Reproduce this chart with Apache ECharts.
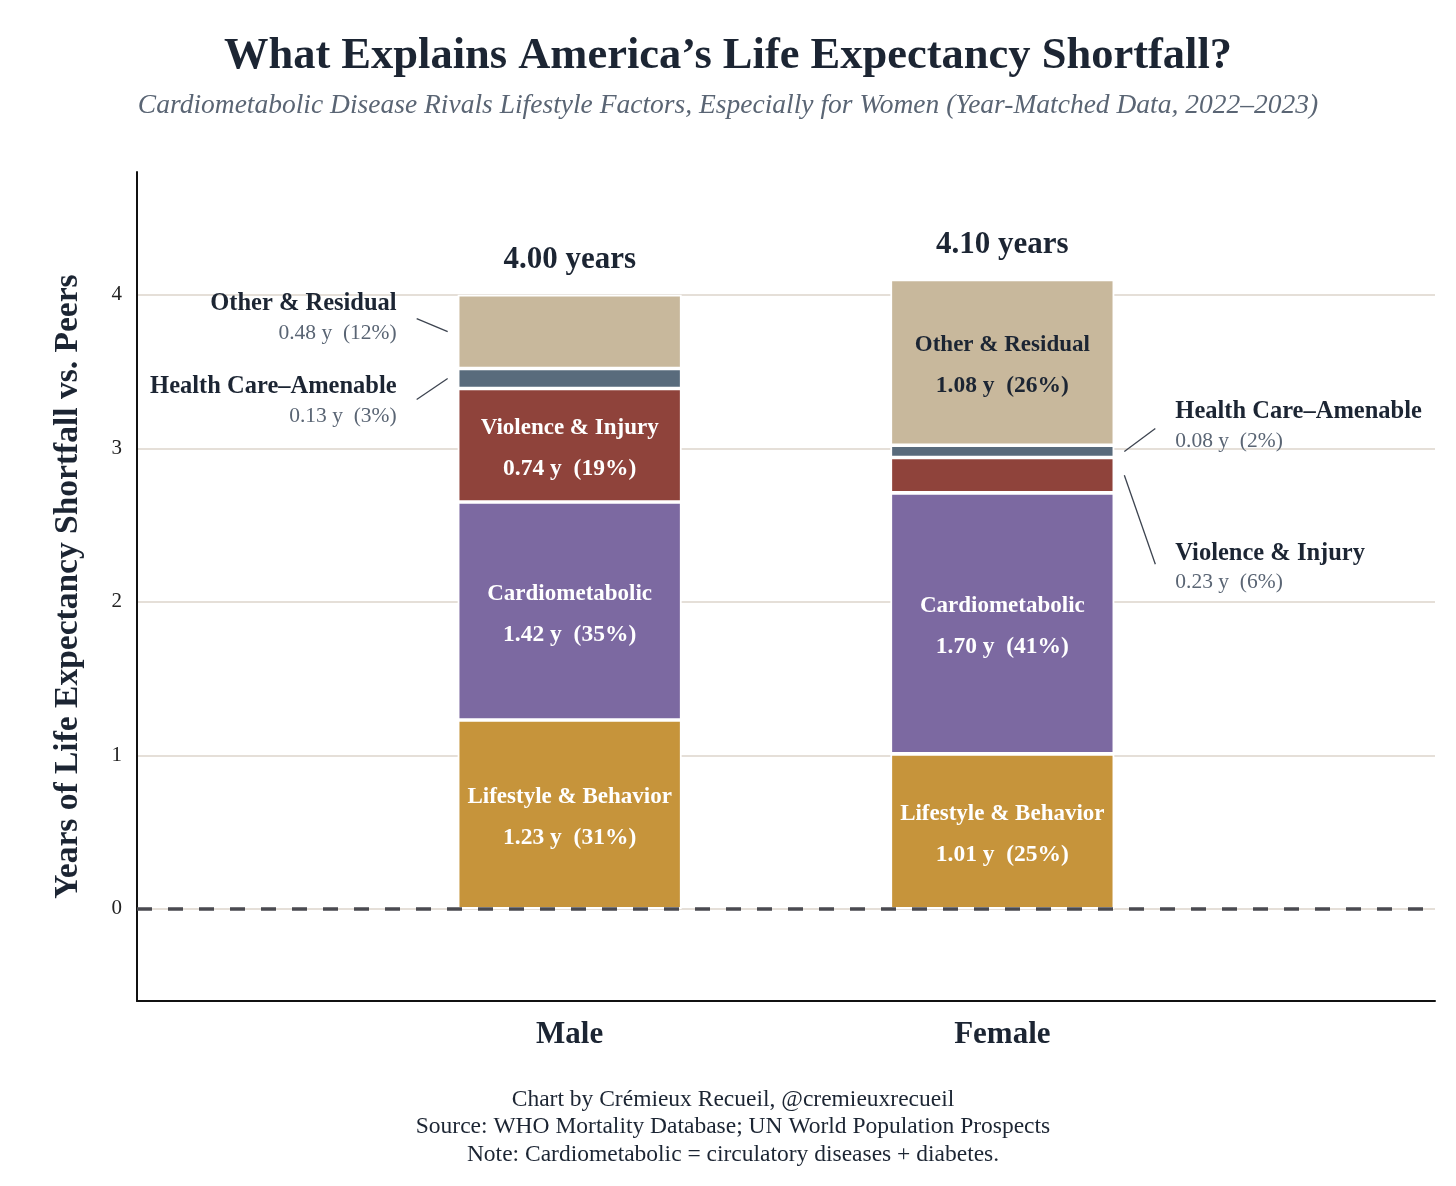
<!DOCTYPE html>
<html>
<head>
<meta charset="utf-8">
<script src="https://cdn.jsdelivr.net/npm/echarts@6/dist/echarts.min.js"></script>
<style>
html, body { margin: 0; padding: 0; background: #fff; }
#chart { width: 1456px; height: 1186px; }
</style>
</head>
<body>
<div id="chart"></div>
<script>
// data
var groups = ['Male', 'Female'];
var causes = ['Lifestyle & Behavior', 'Cardiometabolic', 'Violence & Injury', 'Health Care–Amenable', 'Other & Residual'];
var maleYears = [1.23, 1.42, 0.74, 0.13, 0.48];
var malePct = [31, 35, 19, 3, 12];
var femaleYears = [1.01, 1.70, 0.23, 0.08, 1.08];
var femalePct = [25, 41, 6, 2, 26];
var yTicks = [0, 1, 2, 3, 4];

var colors = ['#c6943b', '#7c69a1', '#8f433b', '#596b7c', '#c8b89c'];
var insideText = ['#ffffff', '#ffffff', '#ffffff', '#ffffff', '#1c2533'];
var FONT = '"Liberation Serif", "DejaVu Serif", serif';
var DARK = '#1c2533';
var GREY = '#5a6574';
var BAR_W = 224;

var years = [maleYears, femaleYears];
var pcts = [malePct, femalePct];
// x slots: empty padding slot on each side of the two bars
var slots = [''].concat(groups, ['']);

// callouts for the thin segments: side, shift of the leader line end, shift of the text (px)
var callouts = [
    { g: 0, c: 4, side: -1, dy: -13, ty: 0 },
    { g: 0, c: 3, side: -1, dy: 21, ty: 2 },
    { g: 1, c: 3, side: 1, dy: -23, ty: -2 },
    { g: 1, c: 2, side: 1, dy: 89, ty: 4 }
];

function isCallout(g, c) {
    return callouts.some(function (o) { return o.g === g && o.c === c; });
}
function valueText(g, c) {
    return years[g][c].toFixed(2) + ' y  (' + pcts[g][c] + '%)';
}

var totals = years.map(function (arr) {
    return Math.round(arr.reduce(function (a, b) { return a + b; }, 0) * 100) / 100;
});

var series = causes.map(function (name, c) {
    var data = ['-'];
    groups.forEach(function (gName, g) {
        data.push({ value: years[g][c], label: { show: !isCallout(g, c) } });
    });
    data.push('-');
    return {
        name: name,
        type: 'bar',
        stack: 'total',
        barWidth: BAR_W,
        itemStyle: { color: colors[c], borderColor: '#ffffff', borderWidth: 1.8 },
        data: data,
        label: {
            show: true,
            position: 'inside',
            offset: [0, 3],
            formatter: function (p) {
                var g = p.dataIndex - 1;
                return '{n|' + name + '}\n{v|' + valueText(g, c) + '}';
            },
            rich: {
                n: { fontFamily: FONT, fontSize: 23, fontWeight: 'bold', color: insideText[c], lineHeight: 41 },
                v: { fontFamily: FONT, fontSize: 23.5, fontWeight: 'bold', color: insideText[c], lineHeight: 41 }
            }
        }
    };
});

series[0].markLine = {
    silent: true,
    symbol: 'none',
    label: { show: false },
    lineStyle: { color: '#4a4a50', width: 3.5, type: [15, 16], opacity: 1 },
    data: [{ yAxis: 0 }],
    z: 10
};

series.push({
    type: 'scatter',
    symbolSize: 0,
    silent: true,
    itemStyle: { opacity: 1 },
    data: totals.map(function (t, g) { return [g + 1, t]; }),
    label: {
        show: true,
        position: 'top',
        distance: 19,
        formatter: function (p) { return p.value[1].toFixed(2) + ' years'; },
        fontFamily: FONT,
        fontSize: 31,
        fontWeight: 'bold',
        color: DARK,
        opacity: 1
    }
});

var chartDom = document.getElementById('chart');
var myChart = echarts.init(chartDom);
var option = {
    backgroundColor: '#ffffff',
    animation: false,
    title: [
        {
            text: 'What Explains America\u2019s Life Expectancy Shortfall?',
            left: 'center',
            top: 29,
            textStyle: { fontFamily: FONT, fontSize: 44.5, fontWeight: 'bold', color: DARK }
        },
        {
            text: 'Cardiometabolic Disease Rivals Lifestyle Factors, Especially for Women (Year-Matched Data, 2022\u20132023)',
            left: 'center',
            top: 87,
            textStyle: { fontFamily: FONT, fontSize: 27.5, fontStyle: 'italic', fontWeight: 'normal', color: GREY }
        },
        {
            text: 'Chart by Crémieux Recueil, @cremieuxrecueil\nSource: WHO Mortality Database; UN World Population Prospects\nNote: Cardiometabolic = circulatory diseases + diabetes.',
            left: 728,
            top: 1081,
            textAlign: 'center',
            textStyle: { fontFamily: FONT, fontSize: 23.5, fontWeight: 'normal', color: DARK, lineHeight: 27.5 }
        }
    ],
    grid: { left: 137, right: 21, top: 172, bottom: 185 },
    xAxis: {
        type: 'category',
        data: slots,
        boundaryGap: false,
        axisLine: { onZero: false, lineStyle: { color: '#111111', width: 2 } },
        axisTick: { show: false },
        splitLine: { show: false },
        axisLabel: {
            margin: 18,
            interval: 0,
            fontFamily: FONT,
            fontSize: 31,
            fontWeight: 'bold',
            color: DARK
        }
    },
    yAxis: {
        type: 'value',
        min: -0.6,
        max: 4.8,
        minInterval: 1,
        maxInterval: 1,
        name: 'Years of Life Expectancy Shortfall vs. Peers',
        nameLocation: 'middle',
        nameGap: 52,
        nameTextStyle: { fontFamily: FONT, fontSize: 33.5, fontWeight: 'bold', color: DARK },
        axisLine: { show: true, onZero: false, lineStyle: { color: '#111111', width: 2 } },
        axisTick: { show: false },
        axisLabel: {
            margin: 15,
            formatter: function (v) { return yTicks.indexOf(v) >= 0 ? String(v) : ''; },
            fontFamily: FONT,
            fontSize: 21,
            color: '#222222'
        },
        splitLine: {
            show: true,
            showMinLine: false,
            showMaxLine: false,
            lineStyle: { color: '#ddd5cb', width: 1.5 }
        }
    },
    series: series
};

option && myChart.setOption(option);

// callout labels with leader lines for the thin segments
function drawCallouts() {
    var elements = [];
    callouts.forEach(function (o) {
        var base = 0;
        for (var i = 0; i < o.c; i++) base += years[o.g][i];
        var mid = base + years[o.g][o.c] / 2;
        var pt = myChart.convertToPixel({ xAxisIndex: 0, yAxisIndex: 0 }, [o.g + 1, mid]);
        var edge = pt[0] + o.side * BAR_W / 2;
        var x1 = edge + o.side * 10;
        var x2 = edge + o.side * 41;
        var y2 = pt[1] + o.dy;
        var align = o.side < 0 ? 'right' : 'left';
        elements.push({
            type: 'line',
            silent: true,
            shape: { x1: x1, y1: pt[1], x2: x2, y2: y2 },
            style: { stroke: '#3d4450', lineWidth: 1.3 }
        });
        elements.push({
            type: 'text',
            silent: true,
            x: edge + o.side * 61,
            y: y2 + o.ty,
            style: {
                text: '{n|' + causes[o.c] + '}\n{v|' + valueText(o.g, o.c) + '}',
                align: align,
                verticalAlign: 'middle',
                rich: {
                    n: { fontFamily: FONT, fontSize: 24.5, fontWeight: 'bold', fill: DARK, lineHeight: 29, align: align },
                    v: { fontFamily: FONT, fontSize: 21.5, fill: GREY, lineHeight: 29, align: align }
                }
            }
        });
    });
    myChart.setOption({ graphic: { elements: elements } });
}
drawCallouts();

window.addEventListener('resize', function () {
    myChart.resize();
    drawCallouts();
});
</script>
</body>
</html>
